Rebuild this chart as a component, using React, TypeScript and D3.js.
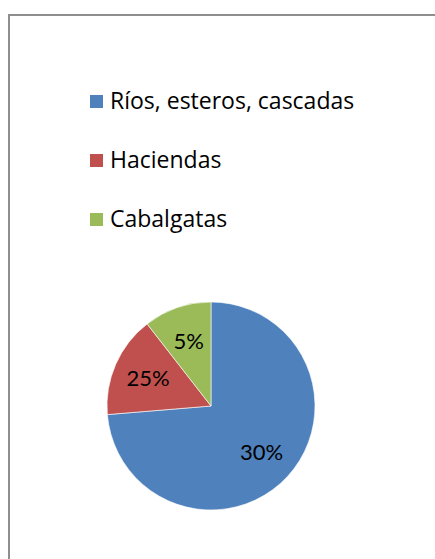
import React, { useEffect, useRef } from 'react';
import * as d3 from 'd3';

// ==================== DATA ====================
const categories = ['Ríos, esteros, cascadas', 'Haciendas', 'Cabalgatas'];
const values = [70, 15, 10];
// labels as printed on the slices
const sliceLabels = ['30%', '25%', '5%'];

const COLORS = ['#4F81BD', '#C0504D', '#9BBB59'];
const FONT = "Lato, 'Open Sans', sans-serif";
const LEGEND_FONT = "'Open Sans', Lato, sans-serif";

const W = 435;
const H = 559;

const App = () => {
    const svgRef = useRef<SVGSVGElement>(null);

    useEffect(() => {
        if (!svgRef.current) return;
        const svg = d3.select(svgRef.current);
        svg.selectAll('*').remove();

        // chart frame (runs off the right and bottom edges)
        svg.append('rect')
            .attr('x', 9)
            .attr('y', 15)
            .attr('width', W + 20)
            .attr('height', H + 20)
            .attr('fill', '#fff')
            .attr('stroke', '#8f8f8f')
            .attr('stroke-width', 2);

        // ---------- legend ----------
        const legendY = d3.scalePoint<string>()
            .domain(categories)
            .range([109, 227]);

        const legend = svg.append('g')
            .selectAll('g')
            .data(categories)
            .enter()
            .append('g')
            .attr('transform', d => `translate(0, ${legendY(d)})`);

        legend.append('rect')
            .attr('x', 90)
            .attr('y', -14)
            .attr('width', 13)
            .attr('height', 13)
            .attr('fill', (d, i) => COLORS[i]);

        legend.append('text')
            .attr('x', 110)
            .attr('y', 0)
            .attr('font-family', LEGEND_FONT)
            .attr('font-size', 23)
            .attr('fill', '#000')
            .text(d => d);

        // ---------- pie ----------
        const cx = 211;
        const cy = 406;
        const radius = 104;

        const pie = d3.pie<number>().sort(null).value(d => d);
        const arcs = pie(values);

        const arc = d3.arc<d3.PieArcDatum<number>>()
            .innerRadius(0)
            .outerRadius(radius);

        const labelArc = d3.arc<d3.PieArcDatum<number>>()
            .innerRadius(radius * 0.66)
            .outerRadius(radius * 0.66);

        const g = svg.append('g').attr('transform', `translate(${cx}, ${cy})`);

        g.selectAll('path')
            .data(arcs)
            .enter()
            .append('path')
            .attr('d', arc)
            .attr('fill', (d, i) => COLORS[i])
            .attr('stroke', '#fff')
            .attr('stroke-width', 0.6);

        g.selectAll('text')
            .data(arcs)
            .enter()
            .append('text')
            .attr('transform', d => `translate(${labelArc.centroid(d)})`)
            .attr('text-anchor', 'middle')
            .attr('dy', '0.36em')
            .attr('font-family', FONT)
            .attr('font-size', 22)
            .attr('fill', '#000')
            .text((d, i) => sliceLabels[i]);
    }, []);

    return (
        <svg
            ref={svgRef}
            width={W}
            height={H}
            style={{ position: 'absolute', left: 0, top: 0, background: '#fff' }}
        />
    );
};

export default App;
